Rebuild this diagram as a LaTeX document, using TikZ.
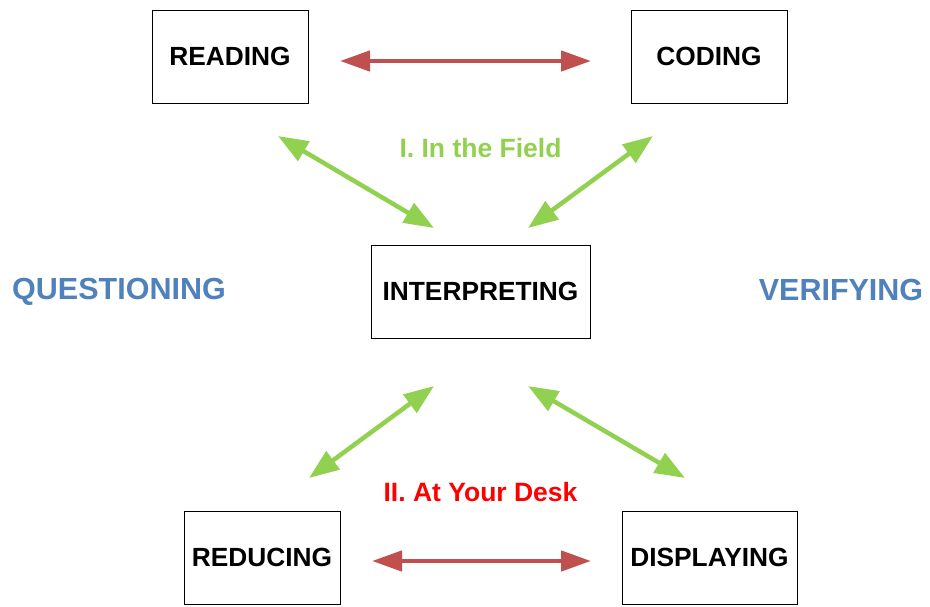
\documentclass[tikz,border=0pt]{standalone}
\usepackage{fontspec}
\setmainfont{Liberation Sans}
\usetikzlibrary{arrows.meta}
\definecolor{arrred}{RGB}{192,80,77}
\definecolor{arrgreen}{RGB}{146,208,80}
\definecolor{labblue}{RGB}{79,129,189}
\definecolor{labred}{RGB}{255,0,0}
\tikzset{
  stepbox/.style={draw=black, line width=0.8pt, fill=white, inner sep=0pt, font=\fontsize{26.3}{31}\selectfont\bfseries},
  redarrow/.style={draw=arrred, line width=4.5pt, {Triangle[length=30pt,width=20pt]}-{Triangle[length=30pt,width=20pt]}},
  greenarrow/.style={draw=arrgreen, line width=4.5pt, {Triangle[length=30pt,width=22pt]}-{Triangle[length=30pt,width=22pt]}},
  sidelabel/.style={text=labblue, font=\fontsize{30.5}{36}\selectfont\bfseries},
  midlabel/.style={font=\fontsize{26.5}{31}\selectfont\bfseries}
}
\begin{document}
\begin{tikzpicture}[x=1pt,y=-1pt]
\useasboundingbox (0,0) rectangle (930,606);
\node[stepbox, minimum width=156pt, minimum height=93pt] (reading) at (230,56.5) {READING};
\node[stepbox, minimum width=156pt, minimum height=93pt] (coding) at (709,56.5) {CODING};
\node[stepbox, minimum width=219pt, minimum height=93pt] (interp) at (480.5,291.5) {INTERPRETING};
\node[stepbox, minimum width=156pt, minimum height=93pt] (reducing) at (262,557.5) {REDUCING};
\node[stepbox, minimum width=175pt, minimum height=93pt] (displaying) at (709.5,557.5) {DISPLAYING};
\node[sidelabel] (quest) at (119,292) {QUESTIONING};
\node[sidelabel] (verif) at (841,290) {VERIFYING};
\node[midlabel, text=arrgreen] (field) at (480.5,148) {I. In the Field};
\node[midlabel, text=labred] (desk) at (480.5,492) {II. At Your Desk};
\coordinate (r1) at (340,61);
\coordinate (r2) at (591,61);
\coordinate (r3) at (372,561);
\coordinate (r4) at (591,561);
\coordinate (g1a) at (278,136);
\coordinate (g1b) at (434,228);
\coordinate (g2a) at (653,136);
\coordinate (g2b) at (528,228);
\coordinate (g3a) at (434,386);
\coordinate (g3b) at (309,478);
\coordinate (g4a) at (528,386);
\coordinate (g4b) at (685,478);
\draw[redarrow] (r1) -- (r2);
\draw[redarrow] (r3) -- (r4);
\draw[greenarrow] (g1a) -- (g1b);
\draw[greenarrow] (g2a) -- (g2b);
\draw[greenarrow] (g3a) -- (g3b);
\draw[greenarrow] (g4a) -- (g4b);
\end{tikzpicture}
\end{document}
